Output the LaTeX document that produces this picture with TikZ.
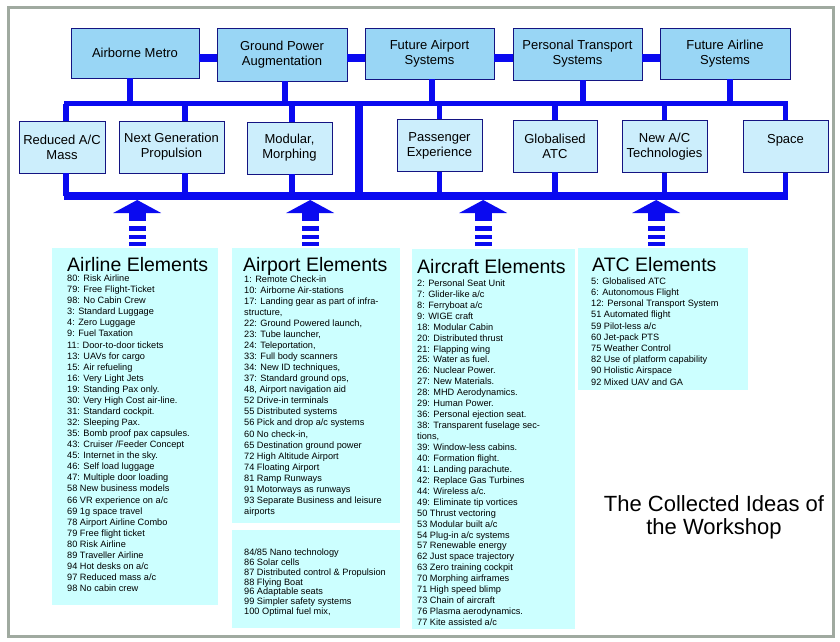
\documentclass[tikz,border=0pt]{standalone}
\usepackage{fontspec}
\setmainfont{Liberation Sans}
\usetikzlibrary{positioning}

\definecolor{barblue}{RGB}{10,10,240}
\definecolor{edgeblue}{RGB}{20,20,130}
\definecolor{topfill}{RGB}{153,214,245}
\definecolor{midfill}{RGB}{204,238,252}
\definecolor{listfill}{RGB}{204,255,255}
\definecolor{framegray}{RGB}{160,170,160}

\tikzset{
  topbox/.style={draw=edgeblue, line width=0.8pt, fill=topfill, align=center,
    inner sep=0pt, font=\fontsize{13}{15}\selectfont},
  midbox/.style={draw=edgeblue, line width=0.8pt, fill=midfill, align=center,
    inner sep=0pt, minimum width=85pt, minimum height=52pt,
    font=\fontsize{13}{15}\selectfont},
  listbox/.style={fill=listfill, inner sep=0pt, anchor=north west},
  link/.style={draw=barblue, line width=5.5pt},
  bus/.style={draw=barblue},
  item/.style={inner sep=0pt, anchor=base west, font=\fontsize{9.2}{11}\selectfont},
  heading/.style={inner sep=0pt, anchor=base west, font=\fontsize{19.5}{22}\selectfont},
  uparrow/.pic={
    \fill[barblue] (-24,-35) -- (24,-35) -- (0,-48) -- cycle;
    \fill[barblue] (-8.5,-27) rectangle (8.5,-35.5);
    \foreach \s/\e in {-22/-17,-13/-9,-6/-2}
      \fill[barblue] (-8.5,\s) rectangle (8.5,\e);
  }
}

\begin{document}
\begin{tikzpicture}[x=1pt, y=-1pt]
\useasboundingbox (0,0) rectangle (840,642);

% outer frame
\draw[framegray, line width=3pt] (8,8) rectangle (833,636);

% top row
\node[topbox, minimum width=128pt, minimum height=50pt] (metro) at (135,53) {Airborne Metro};
\node[topbox, minimum width=130pt, minimum height=53pt] (ground) at (282,54.5) {Ground Power\\Augmentation};
\node[topbox, minimum width=129pt, minimum height=51pt] (airport) at (429.5,53.5) {Future Airport\\Systems};
\node[topbox, minimum width=129pt, minimum height=52pt] (transport) at (577.5,54) {Personal Transport\\Systems};
\node[topbox, minimum width=130pt, minimum height=51pt] (airline) at (725,53.5) {Future Airline\\Systems};

% middle row
\node[midbox, minimum width=86pt] (mass) at (62,147) {Reduced A/C\\Mass};
\node[midbox, minimum width=105pt] (propulsion) at (171.5,147) {Next Generation\\Propulsion};
\node[midbox] (morphing) at (289.5,148) {Modular,\\Morphing};
\node[midbox] (passenger) at (439.5,145.5) {Passenger\\Experience};
\node[midbox, minimum width=84pt] (globalatc) at (555,146) {Globalised\\ATC};
\node[midbox] (newtech) at (664.5,146.5) {New A/C\\Technologies};
\node[midbox] (space) at (785.5,146.5) {Space\\\mbox{}};

% bus lines
\coordinate (row) at (0,58);
\coordinate (busU) at (0,103.5);
\coordinate (busL) at (0,196);
\coordinate (spine) at (359,0);

\draw[bus, line width=7.5pt] (metro.east |- row) -- (ground.west |- row);
\draw[bus, line width=7.5pt] (ground.east |- row) -- (airport.west |- row);
\draw[bus, line width=7.5pt] (airport.east |- row) -- (transport.west |- row);
\draw[bus, line width=7.5pt] (transport.east |- row) -- (airline.west |- row);

\foreach \n/\dx in {metro/-5,ground/3,airport/2.5,transport/5.5,airline/5}
  \draw[link] ([xshift=\dx pt]\n.south) -- ([xshift=\dx pt]\n.south |- busU);

\draw[bus, line width=5pt] ([xshift=2pt]mass.north |- busU) -- ([xshift=2pt]space.north |- busU);
\draw[bus, line width=8pt] ([xshift=2pt]mass.south |- busL) -- ([xshift=2pt]space.south |- busL);
\draw[bus, line width=8.5pt] (spine |- busU) -- (spine |- busL);

\foreach \n/\dx in {mass/4,propulsion/13.5,morphing/2.5,passenger/0,globalatc/0,newtech/0,space/0}{
  \draw[link] ([xshift=\dx pt]\n.north |- busU) -- ([xshift=\dx pt]\n.north);
  \draw[link] ([xshift=\dx pt]\n.south) -- ([xshift=\dx pt]\n.south |- busL);
}

% element boxes
\node[listbox, minimum width=166pt, minimum height=357pt] (airlinebox) at (52,248) {};
\node[listbox, minimum width=168pt, minimum height=275pt] (airportbox) at (232,248) {};
\node[listbox, minimum width=168pt, minimum height=98pt] (extrabox) at (232,530) {};
\node[listbox, minimum width=163pt, minimum height=380pt] (aircraftbox) at (412,249) {};
\node[listbox, minimum width=170pt, minimum height=142pt] (atcbox) at (578,248) {};

% arrows up to the bus
\pic at ([xshift=2pt]airlinebox.north) {uparrow};
\pic at ([xshift=-6pt]airportbox.north) {uparrow};
\pic at ([xshift=-10.5pt]aircraftbox.north |- airlinebox.north) {uparrow};
\pic at ([xshift=-7pt]atcbox.north) {uparrow};

% headings
\node[heading] (airlinehead) at (67,271) {Airline Elements};
\node[heading] (airporthead) at (243,271) {Airport Elements};
\node[heading] (aircrafthead) at (417,273) {Aircraft Elements};
\node[heading] (atchead) at (592,271) {ATC Elements};

% lists
\foreach \t [count=\i from 0] in {{80: Risk Airline},{79: Free Flight-Ticket},{98: No Cabin Crew},
  {3: Standard Luggage},{4: Zero Luggage},{9: Fuel Taxation},{11: Door-to-door tickets},
  {13: UAVs for cargo},{15: Air refueling},{16: Very Light Jets},{19: Standing Pax only.},
  {30: Very High Cost air-line.},{31: Standard cockpit.},{32: Sleeping Pax.},
  {35: Bomb proof pax capsules.},{43: Cruiser /Feeder Concept},{45: Internet in the sky.},
  {46: Self load luggage},{47: Multiple door loading},{58 New business models},
  {66 VR experience on a/c},{69 1g space travel},{78 Airport Airline Combo},
  {79 Free flight ticket},{80 Risk Airline},{89 Traveller Airline},{94 Hot desks on a/c},
  {97 Reduced mass a/c},{98 No cabin crew}}
  \node[item] (al\i) at (67,{281.6+11.07*\i}) {\t};

\foreach \t [count=\i from 0] in {{1: Remote Check-in},{10: Airborne Air-stations},
  {17: Landing gear as part of infra-},{structure,},{22: Ground Powered launch,},
  {23: Tube launcher,},{24: Teleportation,},{33: Full body scanners},{34: New ID techniques,},
  {37: Standard ground ops,},{48, Airport navigation aid},{52 Drive-in terminals},
  {55 Distributed systems},{56 Pick and drop a/c systems},{60 No check-in,},
  {65 Destination ground power},{72 High Altitude Airport},{74 Floating Airport},
  {81 Ramp Runways},{91 Motorways as runways},{93 Separate Business and leisure},{airports}}
  \node[item] (ap\i) at (244,{282.3+11.05*\i}) {\t};

\foreach \t [count=\i from 0] in {{84/85 Nano technology},{86 Solar cells},
  {87 Distributed control \& Propulsion},{88 Flying Boat},{96 Adaptable seats},
  {99 Simpler safety systems},{100 Optimal fuel mix,}}
  \node[item] (ax\i) at (244,{555.3+9.9*\i}) {\t};

\foreach \t [count=\i from 0] in {{2: Personal Seat Unit},{7: Glider-like a/c},{8: Ferryboat a/c},
  {9: WIGE craft},{18: Modular Cabin},{20: Distributed thrust},{21: Flapping wing},
  {25: Water as fuel.},{26: Nuclear Power.},{27: New Materials.},{28: MHD Aerodynamics.},
  {29: Human Power.},{36: Personal ejection seat.},{38: Transparent fuselage sec-},{tions,},
  {39: Window-less cabins.},{40: Formation flight.},{41: Landing parachute.},
  {42: Replace Gas Turbines},{44: Wireless a/c.},{49: Eliminate tip vortices},
  {50 Thrust vectoring},{53 Modular built a/c},{54 Plug-in a/c systems},{57 Renewable energy},
  {62 Just space trajectory},{63 Zero training cockpit},{70 Morphing airframes},
  {71 High speed blimp},{73 Chain of aircraft},{76 Plasma aerodynamics.},{77 Kite assisted a/c}}
  \node[item] (ac\i) at (417,{286.4+10.94*\i}) {\t};

\foreach \t [count=\i from 0] in {{5: Globalised ATC},{6: Autonomous Flight},
  {12: Personal Transport System},{51 Automated flight},{59 Pilot-less a/c},{60 Jet-pack PTS},
  {75 Weather Control},{82 Use of platform capability},{90 Holistic Airspace},
  {92 Mixed UAV and GA}}
  \node[item] (atc\i) at (591,{284.3+11.2*\i}) {\t};

% caption
\node[align=center, inner sep=0pt, font=\fontsize{22}{23.3}\selectfont] (caption) at (714,517.6)
  {The Collected Ideas of\\the Workshop};
\end{tikzpicture}
\end{document}
